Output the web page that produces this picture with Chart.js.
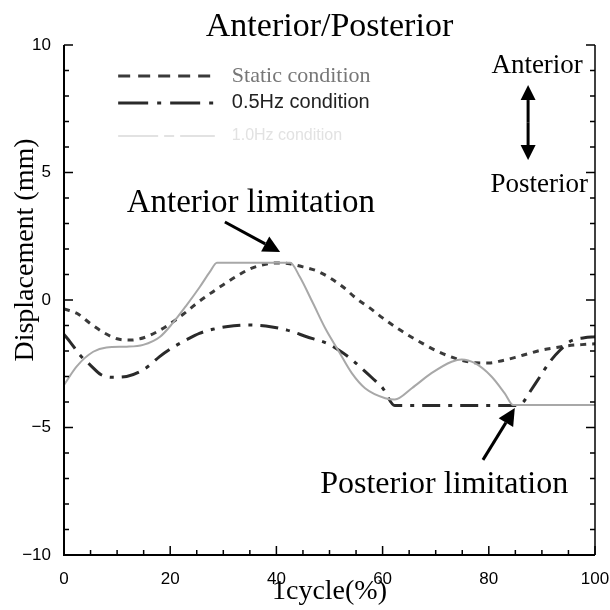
<!DOCTYPE html>
<html>
<head>
<meta charset="utf-8">
<script src="https://cdn.jsdelivr.net/npm/chart.js@4.4.1/dist/chart.umd.min.js"></script>
<style>
html, body { margin: 0; padding: 0; background: #fff; }
</style>
</head>
<body>
<canvas id="chart" width="610" height="610"></canvas>
<script>
// Valori: ciclo (%) e spostamento (mm)
const staticX = [0, 2.5, 5, 7.5, 10, 12.5, 15, 17.5, 20, 22.5, 25, 27.5, 30, 32.5, 35, 37.5, 40, 42.5, 45, 47.5, 50, 52.5, 55, 57.5, 60, 62.5, 65, 67.5, 70, 72.5, 75, 77.5, 80, 82.5, 85, 87.5, 90, 92.5, 95, 97.5, 100];
const staticY = [-0.35, -0.53, -0.93, -1.28, -1.52, -1.57, -1.48, -1.25, -0.93, -0.55, -0.13, 0.25, 0.6, 0.93, 1.22, 1.38, 1.45, 1.42, 1.3, 1.15, 0.88, 0.52, 0.07, -0.3, -0.7, -1.07, -1.4, -1.7, -1.98, -2.2, -2.37, -2.46, -2.47, -2.38, -2.25, -2.1, -1.96, -1.87, -1.79, -1.75, -1.72];

const hz05X = [0, 1.1, 3, 5, 7, 9.3, 11.8, 14.3, 16, 18, 20.5, 23, 25.5, 28, 30.5, 34.5, 38, 42, 45.7, 49.5, 52, 54, 56, 58, 60, 62.3, 70, 80, 85, 86.5, 87.5, 89.5, 91.5, 93.5, 95.5, 98, 100];
const hz05Y = [-1.35, -1.63, -2.16, -2.56, -2.93, -3.03, -3.0, -2.81, -2.58, -2.22, -1.86, -1.57, -1.31, -1.15, -1.05, -0.98, -1.02, -1.18, -1.44, -1.7, -2.0, -2.3, -2.67, -3.05, -3.45, -4.14, -4.14, -4.14, -4.14, -4.0, -3.68, -3.05, -2.42, -1.95, -1.6, -1.48, -1.44];

const hz10X = [0, 2.4, 5.5, 8, 11.8, 14.9, 18.1, 20.5, 23.1, 25.6, 27.5, 28.8, 35, 42.6, 44.4, 46.9, 49.3, 51.6, 54.2, 56.7, 60.5, 62.3, 65.5, 69.2, 73, 74.9, 77.4, 80.5, 83, 84.6, 90, 100];
const hz10Y = [-3.33, -2.6, -2.03, -1.86, -1.83, -1.76, -1.44, -0.9, -0.2, 0.52, 1.11, 1.46, 1.46, 1.46, 0.91, -0.13, -1.15, -1.96, -2.87, -3.46, -3.85, -3.9, -3.46, -2.87, -2.42, -2.33, -2.48, -3.0, -3.66, -4.12, -4.12, -4.12];

const seriesLabels = ['Static condition', '0.5Hz condition', '1.0Hz condition'];
const xTickStep = 20;
const xMinorStep = 5;
const yTickStep = 5;
const yMinorStep = 1;

const SERIF = "'Liberation Serif', 'Times New Roman', serif";
const SANS = "'Liberation Sans', Arial, sans-serif";
const NARROW = "'Liberation Sans Narrow', 'Liberation Sans', Arial, sans-serif";

function toPoints(xs, ys) {
    return xs.map(function(x, i) { return { x: x, y: ys[i] }; });
}

// Disegna una freccia con punta piena
function drawArrow(ctx, x1, y1, x2, y2, headLen, headW) {
    const ang = Math.atan2(y2 - y1, x2 - x1);
    const bx = x2 - headLen * Math.cos(ang);
    const by = y2 - headLen * Math.sin(ang);
    ctx.beginPath();
    ctx.moveTo(x1, y1);
    ctx.lineTo(bx, by);
    ctx.stroke();
    ctx.beginPath();
    ctx.moveTo(x2, y2);
    ctx.lineTo(bx + headW / 2 * Math.sin(ang), by - headW / 2 * Math.cos(ang));
    ctx.lineTo(bx - headW / 2 * Math.sin(ang), by + headW / 2 * Math.cos(ang));
    ctx.closePath();
    ctx.fill();
}

// Assi, tacche, legenda e annotazioni
const decor = {
    id: 'decor',
    afterDatasetsDraw(chart) {
        const ctx = chart.ctx;
        const a = chart.chartArea;
        const xs = chart.scales.x;
        const ys = chart.scales.y;
        const px = function(v) { return xs.getPixelForValue(v); };
        const py = function(v) { return ys.getPixelForValue(v); };

        ctx.save();
        ctx.strokeStyle = '#000';
        ctx.fillStyle = '#000';
        ctx.setLineDash([]);

        // assi
        ctx.lineWidth = 2;
        ctx.beginPath();
        ctx.moveTo(a.left, a.top);
        ctx.lineTo(a.left, a.bottom);
        ctx.lineTo(a.right, a.bottom);
        ctx.stroke();
        ctx.lineWidth = 1.5;
        ctx.beginPath();
        ctx.moveTo(a.right, a.top);
        ctx.lineTo(a.right, a.bottom);
        ctx.stroke();

        // tacche verso l'interno
        ctx.lineWidth = 1.5;
        ctx.beginPath();
        for (let v = ys.min; v <= ys.max; v += yMinorStep) {
            const len = v % yTickStep === 0 ? 9 : 5;
            ctx.moveTo(a.left, py(v));
            ctx.lineTo(a.left + len, py(v));
            ctx.moveTo(a.right, py(v));
            ctx.lineTo(a.right - len, py(v));
        }
        for (let v = xs.min; v <= xs.max; v += xMinorStep) {
            const len = v % xTickStep === 0 ? 9 : 5;
            ctx.moveTo(px(v), a.bottom);
            ctx.lineTo(px(v), a.bottom - len);
        }
        ctx.stroke();

        // legenda
        const legendDash = [[12, 8], [30, 9, 4, 9], [40, 6, 10, 6]];
        const legendY = [8.78, 7.73, 6.43];
        chart.data.datasets.forEach(function(ds, i) {
            ctx.strokeStyle = i === 2 ? '#e2e2e2' : ds.borderColor;
            ctx.lineWidth = i === 2 ? 2 : 3;
            ctx.setLineDash(legendDash[i]);
            ctx.beginPath();
            ctx.moveTo(px(10.2), py(legendY[i]));
            ctx.lineTo(px(28.4), py(legendY[i]));
            ctx.stroke();
        });
        ctx.setLineDash([]);
        ctx.textAlign = 'left';
        ctx.textBaseline = 'middle';
        ctx.fillStyle = '#777';
        ctx.font = '22px ' + SERIF;
        ctx.fillText(seriesLabels[0], px(31.6), py(legendY[0]));
        ctx.fillStyle = '#222';
        ctx.font = '20px ' + SANS;
        ctx.fillText(seriesLabels[1], px(31.6), py(legendY[1]));
        ctx.fillStyle = '#e2e2e2';
        ctx.font = '16px ' + SANS;
        ctx.fillText(seriesLabels[2], px(31.6), py(legendY[2]));

        // annotazioni
        ctx.fillStyle = '#000';
        ctx.strokeStyle = '#000';
        ctx.textAlign = 'center';
        ctx.textBaseline = 'alphabetic';
        ctx.font = '33px ' + SERIF;
        ctx.fillText('Anterior limitation', px(35.2), py(3.45));
        ctx.font = '32px ' + SERIF;
        ctx.fillText('Posterior limitation', px(71.6), py(-7.57));
        ctx.font = '27px ' + SERIF;
        ctx.fillText('Anterior', px(89.1), py(8.9));
        ctx.fillText('Posterior', px(89.5), py(4.24));

        ctx.lineWidth = 3;
        drawArrow(ctx, px(30.3), py(3.06), px(40.7), py(1.88), 17, 17);
        drawArrow(ctx, px(78.9), py(-6.27), px(84.9), py(-4.24), 17, 17);
        drawArrow(ctx, px(87.4), py(6.95), px(87.4), py(8.43), 15, 15);
        drawArrow(ctx, px(87.4), py(6.95), px(87.4), py(5.49), 15, 15);

        // titoli
        ctx.font = '34px ' + SERIF;
        ctx.fillText('Anterior/Posterior', (a.left + a.right) / 2, 36);
        ctx.font = '28px ' + SERIF;
        ctx.fillText('1cycle(%)', px(50), 599);
        ctx.save();
        ctx.translate(33, 250);
        ctx.rotate(-Math.PI / 2);
        ctx.fillText('Displacement (mm)', 0, 0);
        ctx.restore();

        ctx.restore();
    }
};

const tickFont = { family: NARROW, size: 17 };

new Chart(document.getElementById('chart'), {
    type: 'line',
    data: {
        datasets: [{
            label: seriesLabels[0],
            data: toPoints(staticX, staticY),
            borderColor: '#3a3a3a',
            borderWidth: 3,
            borderDash: [6, 6],
            order: 2
        }, {
            label: seriesLabels[1],
            data: toPoints(hz05X, hz05Y),
            borderColor: '#2a2a2a',
            borderWidth: 3,
            borderDash: [18, 8, 4, 8],
            order: 1
        }, {
            label: seriesLabels[2],
            data: toPoints(hz10X, hz10Y),
            borderColor: '#a8a8a8',
            borderWidth: 2,
            order: 0
        }]
    },
    options: {
        responsive: false,
        animation: false,
        layout: { padding: { top: 45, right: 15, left: 0, bottom: 0 } },
        elements: {
            point: { radius: 0 },
            line: { cubicInterpolationMode: 'monotone', fill: false }
        },
        plugins: {
            legend: { display: false },
            tooltip: { enabled: false }
        },
        scales: {
            x: {
                type: 'linear',
                min: 0,
                max: 100,
                grid: { display: false, drawTicks: false },
                border: { display: false },
                ticks: { stepSize: xTickStep, padding: 14, color: '#000', font: tickFont },
                afterFit: function(s) {
                    s.height = 55;
                    s.paddingLeft = 0;
                    s.paddingRight = 0;
                }
            },
            y: {
                type: 'linear',
                min: -10,
                max: 10,
                grid: { display: false, drawTicks: false },
                border: { display: false },
                ticks: {
                    stepSize: yTickStep,
                    padding: 13,
                    color: '#000',
                    font: tickFont,
                    callback: function(v) { return String(v).replace('-', '\u2212'); }
                },
                afterFit: function(s) {
                    s.width = 64;
                    s.paddingTop = 0;
                    s.paddingBottom = 0;
                }
            }
        }
    },
    plugins: [decor]
});
</script>
</body>
</html>
